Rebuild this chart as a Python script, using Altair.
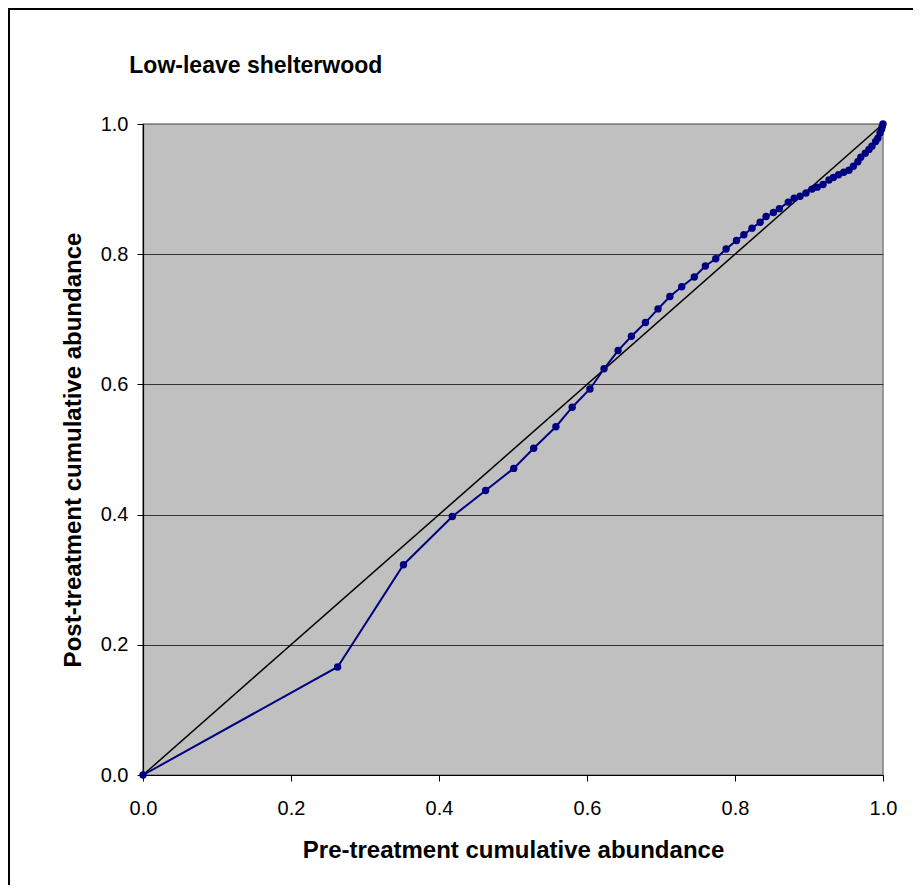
import altair as alt
import pandas as pd

pre = [0.000, 0.263, 0.352, 0.418, 0.463, 0.501, 0.528, 0.558, 0.580, 0.604,
       0.623, 0.642, 0.660, 0.679, 0.696, 0.712, 0.728, 0.745, 0.760, 0.774,
       0.788, 0.802, 0.812, 0.823, 0.834, 0.842, 0.852, 0.860, 0.872, 0.880,
       0.888, 0.896, 0.904, 0.911, 0.919, 0.927, 0.933, 0.940, 0.947, 0.954,
       0.960, 0.966, 0.970, 0.976, 0.981, 0.985, 0.990, 0.993, 0.996, 0.998,
       0.999, 1.000]
post = [0.000, 0.166, 0.323, 0.397, 0.437, 0.471, 0.502, 0.535, 0.565, 0.593,
        0.624, 0.652, 0.674, 0.695, 0.716, 0.735, 0.750, 0.765, 0.782, 0.793,
        0.808, 0.821, 0.830, 0.840, 0.849, 0.858, 0.864, 0.870, 0.880, 0.886,
        0.889, 0.894, 0.900, 0.903, 0.907, 0.914, 0.918, 0.922, 0.926, 0.929,
        0.935, 0.942, 0.949, 0.955, 0.961, 0.966, 0.973, 0.978, 0.986, 0.992,
        0.996, 1.000]
diag_x = [0.0, 1.0]
diag_y = [0.0, 1.0]
ticks = [0.0, 0.2, 0.4, 0.6, 0.8, 1.0]

df = pd.DataFrame({"pre": pre, "post": post, "order": list(range(len(pre)))})
diag = pd.DataFrame({"pre": diag_x, "post": diag_y})

FONT = "Liberation Sans"

xscale = alt.Scale(domain=[0, 1], nice=False, zero=False)
yscale = alt.Scale(domain=[0, 1], nice=False, zero=False)

xaxis = alt.Axis(
    title="Pre-treatment cumulative abundance", values=ticks, format=".1f",
    grid=False, domainColor="#000000", domainWidth=1.2, tickColor="#000000",
    tickSize=6, labelFontSize=20, labelFont=FONT, labelColor="#000000",
    labelPadding=17, titleFontSize=24, titleFont=FONT, titleFontWeight="bold",
    titleColor="#000000", titleBaseline="alphabetic", titleY=82, titleX=370,
    titleAlign="center", labelFlush=False,
)
yaxis = alt.Axis(
    title="Post-treatment cumulative abundance", values=ticks, format=".1f",
    grid=True,
    gridColor=alt.condition("datum.value >= 1", alt.value("#808080"), alt.value("#333333")),
    gridWidth=1, domainColor="#000000",
    domainWidth=1.2, tickColor="#000000", tickSize=6, labelFontSize=20,
    labelFont=FONT, labelColor="#000000", labelPadding=9, titleFontSize=24,
    titleFont=FONT, titleFontWeight="bold", titleColor="#000000",
    titleBaseline="alphabetic", titleAngle=270, titleX=-63, titleY=325.5,
    titleAlign="center", labelFlush=False,
)

base = alt.Chart(df)

line = base.mark_line(color="#000080", strokeWidth=2).encode(
    x=alt.X("pre:Q", scale=xscale, axis=xaxis),
    y=alt.Y("post:Q", scale=yscale, axis=yaxis),
    order="order:Q",
)
pts = base.mark_circle(color="#000080", opacity=1, size=55).encode(
    x=alt.X("pre:Q", scale=xscale),
    y=alt.Y("post:Q", scale=yscale),
)
diag_line = alt.Chart(diag).mark_line(color="#000000", strokeWidth=1.5).encode(
    x=alt.X("pre:Q", scale=xscale),
    y=alt.Y("post:Q", scale=yscale),
)
border = alt.Chart(alt.Data(values=[{"a": 1}])).mark_rect(
    fill=None, stroke="#000000", strokeWidth=2
).encode(
    x=alt.value(-134), y=alt.value(-115), x2=alt.value(2000), y2=alt.value(2000)
)

chart = alt.layer(border, diag_line, line, pts).properties(
    width=740, height=651,
    padding={"left": 135, "top": 116, "right": 30, "bottom": 110},
    autosize=alt.AutoSizeParams(type="none"),
    background="#ffffff",
    title=alt.TitleParams(
        "Low-leave shelterwood", anchor="start", frame="group", dx=-13.7,
        fontSize=23, font=FONT, fontWeight="bold", color="#000000",
        baseline="alphabetic", offset=0, dy=88,
    ),
).configure_view(
    fill="#c0c0c0", stroke="#808080", strokeWidth=1.5
)

chart.save("out.html", embed_options={"renderer": "svg", "actions": False})
